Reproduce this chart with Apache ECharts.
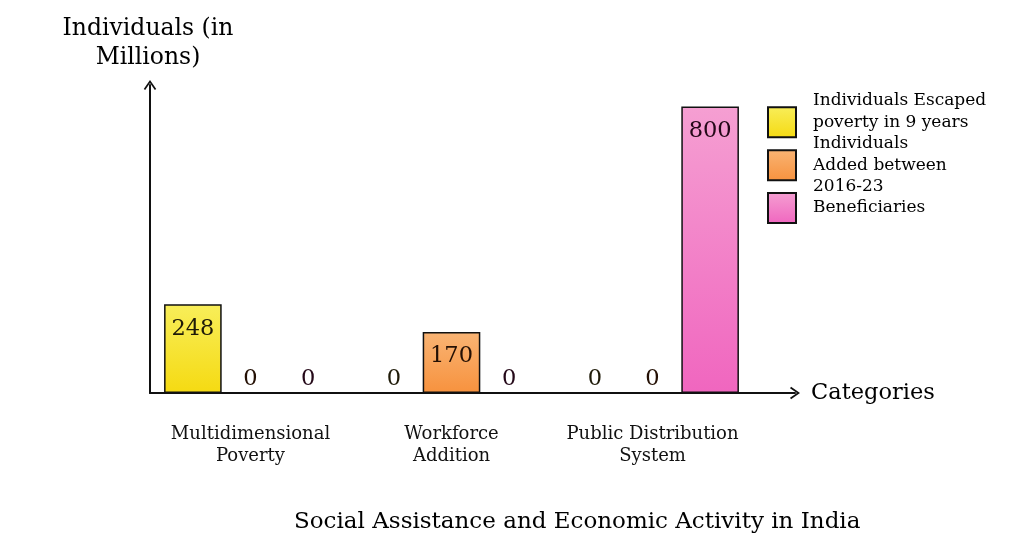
<!DOCTYPE html>
<html>
<head>
<meta charset="utf-8">
<script src="https://cdn.jsdelivr.net/npm/echarts@6/dist/echarts.min.js"></script>
<style>html,body{margin:0;padding:0;background:#fff}#c{width:1024px;height:557px}</style>
</head>
<body>
<div id="c"></div>
<script>
const categories = ['Multidimensional\nPoverty', 'Workforce\nAddition', 'Public Distribution\nSystem'];
const seriesNames = ['Individuals Escaped\npoverty in 9 years', 'Individuals\nAdded between\n2016-23', 'Beneficiaries'];
const escaped = [248, 0, 0];
const added = [0, 170, 0];
const beneficiaries = [0, 0, 800];
const yMax = 860;

const FONT = 'DejaVu Serif';
const arrow = 'path://M0,10 L7,0 L14,10 L12.4,11.2 L7,3.4 L1.6,11.2 Z';

function grad(top, bottom) {
  return new echarts.graphic.LinearGradient(0, 0, 0, 1, [
    { offset: 0, color: top }, { offset: 1, color: bottom }
  ]);
}
const fills = [grad('#f8ee5a', '#f5da12'), grad('#f9b474', '#f7923e'), grad('#f59fd2', '#f066bf')];
const labelColors = ['#1e1a08', '#241004', '#240818'];

function makeData(vals) {
  return vals.map(v => ({
    value: v,
    label: v > 0 ? { position: 'insideTop', distance: 13 } : { position: 'top', distance: 2 }
  }));
}

const allVals = [escaped, added, beneficiaries];
const series = allVals.map((vals, i) => ({
  name: seriesNames[i],
  type: 'bar',
  xAxisIndex: 0, yAxisIndex: 0,
  barGap: '0%',
  barCategoryGap: '14%',
  itemStyle: { color: fills[i], borderColor: '#111', borderWidth: 1.5 },
  label: { show: true, fontFamily: FONT, fontSize: 22.5, color: labelColors[i] },
  data: makeData(vals)
}));

const legendTops = [90, 133, 192];
const legends = seriesNames.map((n, i) => ({
  data: [n],
  orient: 'vertical',
  left: 767,
  top: legendTops[i],
  padding: 0,
  icon: 'rect',
  itemWidth: 28,
  itemHeight: 30,
  selectedMode: false,
  formatter: i === 0 ? (name => name + '\n ') : (name => name),
  textStyle: { fontFamily: FONT, fontSize: 17, lineHeight: 21.5, color: '#000', padding: [0, 0, 0, 12] }
}));

const chart = echarts.init(document.getElementById('c'));
chart.setOption({
  animation: false,
  backgroundColor: '#fff',
  title: {
    text: 'Social Assistance and Economic Activity in India',
    left: 289, top: 506,
    textStyle: { fontFamily: FONT, fontSize: 23, fontWeight: 'normal', color: '#000' }
  },
  legend: legends,
  grid: [
    { left: 150, right: 271, top: 85, bottom: 164 },
    { left: 150, right: 229, top: 85, bottom: 164 }
  ],
  xAxis: [
    {
      type: 'category', gridIndex: 0, data: categories,
      axisLine: { show: false }, axisTick: { show: false },
      axisLabel: { interval: 0, margin: 31, fontFamily: FONT, fontSize: 18, lineHeight: 21.5, color: '#111' }
    },
    {
      type: 'value', gridIndex: 1, min: 0, max: 1,
      axisLine: { show: true, onZero: false, symbol: ['none', arrow], symbolSize: [14, 10], lineStyle: { color: '#111', width: 2 } },
      axisTick: { show: false }, axisLabel: { show: false }, splitLine: { show: false },
      name: 'Categories', nameLocation: 'end', nameGap: 16,
      nameTextStyle: { fontFamily: FONT, fontSize: 22.5, color: '#000', padding: [5, 0, 0, 0] }
    }
  ],
  yAxis: [
    {
      type: 'value', gridIndex: 0, min: 0, max: yMax,
      axisLine: { show: true, symbol: ['none', arrow], symbolSize: [14, 10], lineStyle: { color: '#111', width: 2 } },
      axisTick: { show: false }, axisLabel: { show: false }, splitLine: { show: false },
      name: 'Individuals (in\nMillions)', nameLocation: 'end', nameGap: 13,
      nameTextStyle: { fontFamily: FONT, fontSize: 23.5, lineHeight: 29, color: '#000', align: 'center', padding: [0, 4, 0, 0] }
    },
    { type: 'value', gridIndex: 1, min: 0, max: 1, show: false }
  ],
  series: series
});
</script>
</body>
</html>
